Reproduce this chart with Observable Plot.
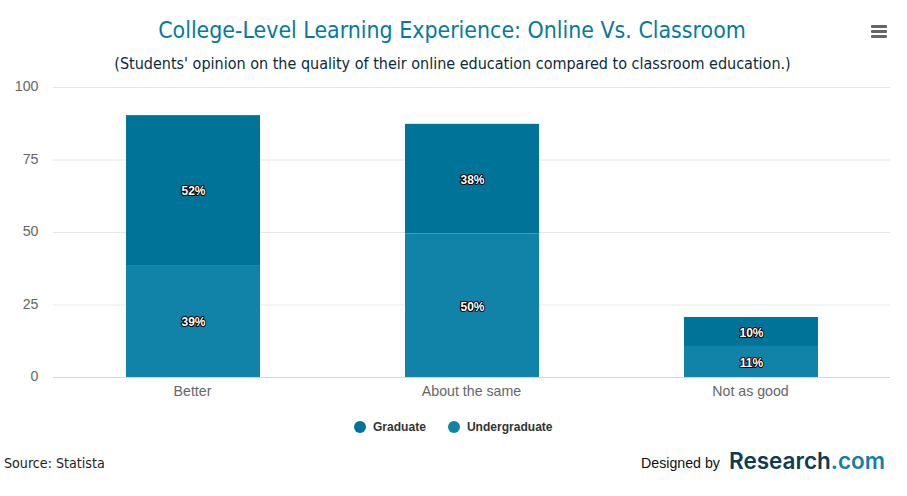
<!DOCTYPE html>
<html>
<head>
<meta charset="utf-8">
<script src="https://cdn.jsdelivr.net/npm/d3@7"></script>
<script src="https://cdn.jsdelivr.net/npm/@observablehq/plot@0.6"></script>
<style>
html,body{margin:0;padding:0;background:#fff;width:907px;height:496px;overflow:hidden}
#page{position:relative;width:907px;height:496px}
.abs{position:absolute;white-space:nowrap}
#title{left:0;width:904px;top:15px;text-align:center;font:22.9px "DejaVu Sans Condensed","DejaVu Sans",sans-serif;font-stretch:condensed;color:#067a9e;line-height:30px}
#subtitle{left:0;width:905px;top:53px;text-align:center;font:16px "DejaVu Sans Condensed","DejaVu Sans",sans-serif;font-stretch:condensed;color:#0b2a3c;line-height:22px}
#chart{left:0;top:70px}
#legend{top:420px;left:354px;font:bold 12.05px "Liberation Sans",sans-serif;color:#333;line-height:14px;display:flex;align-items:center}
#legend i{display:inline-block;width:12px;height:12px;border-radius:50%;margin-right:7px}
#legend span{margin-right:22px}
#source{left:4px;top:454px;font:14.15px "DejaVu Sans Condensed","DejaVu Sans",sans-serif;font-stretch:condensed;color:#222;line-height:18px}
#designed{left:641px;top:454px;font:14.2px "Liberation Sans",sans-serif;color:#111;line-height:18px}
#logo{left:729px;top:447px;font:600 22.5px "Inter",sans-serif;color:#0d3a57;line-height:28px}
#logo b{color:#137fa6;font-weight:600}
#menu{left:871px;top:25px;width:16px}
#menu div{height:3px;background:#666;margin-bottom:2px;border-radius:1px}
</style>
</head>
<body>
<div id="page">
  <div id="title" class="abs">College-Level Learning Experience: Online Vs. Classroom</div>
  <div id="subtitle" class="abs">(Students' opinion on the quality of their online education compared to classroom education.)</div>
  <div id="menu" class="abs"><div></div><div></div><div></div></div>
  <div id="chart" class="abs"></div>
  <div id="legend" class="abs"></div>
  <div id="source" class="abs">Source: Statista</div>
  <div id="designed" class="abs">Designed by</div>
  <div id="logo" class="abs">Research<b>.com</b></div>
</div>
<script>
const categories = ["Better", "About the same", "Not as good"];
const seriesNames = ["Undergraduate", "Graduate"];
const undergraduate = [38.6, 49.5, 10.7];
const graduate = [51.7, 37.8, 10];
const yTicks = [0, 25, 50, 75, 100];
const colors = {Graduate: "#007398", Undergraduate: "#1283a8"};

const rows = [
  ...categories.map((c, i) => ({category: c, series: "Undergraduate", value: undergraduate[i]})),
  ...categories.map((c, i) => ({category: c, series: "Graduate", value: graduate[i]}))
];
const stackOpts = {x: "category", y: "value", z: "series", order: seriesNames};

const plot = Plot.plot({
  width: 907, height: 337,
  marginLeft: 53, marginRight: 17, marginTop: 17, marginBottom: 30,
  style: {fontFamily: "Liberation Sans, sans-serif", background: "transparent"},
  x: {domain: categories, paddingInner: 0.52, paddingOuter: 0.26, label: null},
  y: {domain: [0, 100], ticks: yTicks, label: null},
  marks: [
    Plot.ruleY(yTicks.slice(1), {stroke: "#e6e6e6", strokeWidth: 1, strokeOpacity: 1}),
    Plot.ruleY([0], {stroke: "#ccd6eb", strokeWidth: 1}),
    Plot.axisX({tickSize: 0, tickPadding: 8, fontSize: 14.2, color: "#666", label: null, dx: -1}),
    Plot.axisY({ticks: yTicks, tickSize: 0, tickPadding: 15, fontSize: 14.2, color: "#666", label: null, dy: -1}),
    Plot.barY(rows, {...stackOpts, fill: d => colors[d.series]}),
    Plot.text(rows, Plot.stackY({...stackOpts, text: d => Math.round(d.value) + "%",
      fill: "#fff", stroke: "#000", strokeWidth: 2, paintOrder: "stroke",
      fontSize: 12, fontWeight: "bold", dy: 1}))
  ]
});
document.getElementById("chart").appendChild(plot);

const legend = document.getElementById("legend");
["Graduate", "Undergraduate"].forEach(n => {
  const i = document.createElement("i"); i.style.background = colors[n];
  const s = document.createElement("span"); s.textContent = n;
  legend.append(i, s);
});
</script>
</body>
</html>
